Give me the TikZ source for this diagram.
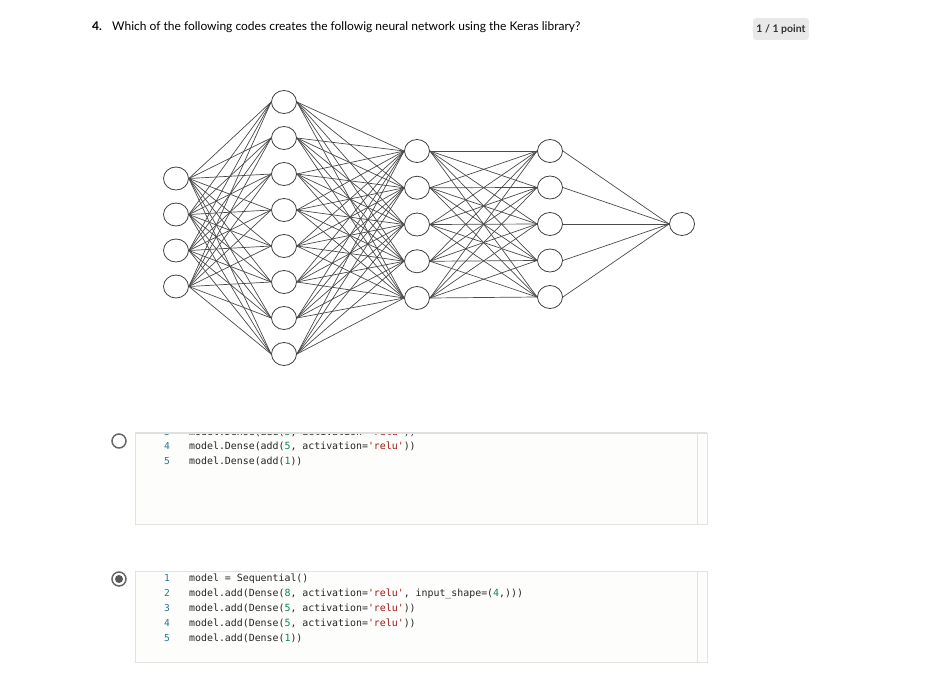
\documentclass[tikz,border=0pt]{standalone}
\usepackage{fontspec}
\setmainfont{Lato}
\newfontfamily\codefont{DejaVu Sans Mono}
\usetikzlibrary{shapes.geometric}
\definecolor{linenocol}{HTML}{237893}
\definecolor{relustr}{HTML}{A31515}
\definecolor{numlit}{HTML}{098658}
\definecolor{boxfill}{HTML}{FDFDFB}
\definecolor{boxrule}{HTML}{E2E2E2}
\definecolor{badgefill}{HTML}{E9E9E9}
\definecolor{edgecol}{HTML}{4A4A4A}

\begin{document}
\begin{tikzpicture}[x=1pt,y=-1pt,
  neuron/.style={ellipse,draw=black!75,fill=white,line width=0.8pt,minimum width=25pt,minimum height=23pt,inner sep=0pt},
  synapse/.style={draw=edgecol,line width=0.7pt},
  lineno/.style={font=\codefont\fontsize{9.6}{12}\selectfont,text=linenocol,anchor=base east,inner sep=0pt},
  codeline/.style={font=\codefont\fontsize{9.9}{12}\selectfont,text=black!85,anchor=base west,inner sep=0pt},
  codebox/.style={fill=boxfill,draw=boxrule,line width=0.8pt},
  radio/.style={circle,draw=black!60,line width=1.5pt,minimum size=14pt,inner sep=0pt}]
%
\useasboundingbox[fill=white] (0,0) rectangle (949,682);
%
% question
\node[font=\fontsize{12}{14}\selectfont\bfseries,anchor=base west,inner sep=0pt] (qnum) at (92,31) {4.};
\node[font=\fontsize{12}{14}\selectfont,anchor=base west,inner sep=0pt] (qtext) at (112,31) {Which of the following codes creates the followig neural network using the Keras library?};
\node[fill=badgefill,rounded corners=3pt,minimum width=53pt,minimum height=22pt,font=\fontsize{10.5}{12}\selectfont\bfseries,text=black!80] (score) at (781,29) {1 / 1 point};
%
% network
\foreach \i/\y in {1/178.5,2/214.5,3/250.5,4/286.5}
  \node[neuron] (in\i) at (176,\y) {};
\foreach \i in {1,...,8}
  \node[neuron] (hA\i) at (284,{102+36*(\i-1)}) {};
\foreach \i in {1,...,5}
  \node[neuron] (hB\i) at (417,{151+36.75*(\i-1)}) {};
\foreach \i in {1,...,5}
  \node[neuron] (hC\i) at (550,{151+36.5*(\i-1)}) {};
\node[neuron] (out) at (682,224) {};
%
\foreach \i in {1,...,4}
  \foreach \j in {1,...,8}
    \draw[synapse] (in\i.east) -- (hA\j.west);
\foreach \i in {1,...,8}
  \foreach \j in {1,...,5}
    \draw[synapse] (hA\i.east) -- (hB\j.west);
\foreach \i in {1,...,5}
  \foreach \j in {1,...,5}
    \draw[synapse] (hB\i.east) -- (hC\j.west);
\foreach \i in {1,...,5}
  \draw[synapse] (hC\i.east) -- (out.west);
%
% first option
\node[radio] (optA) at (119,441) {};
\draw[codebox] (135,433) rectangle (707,524);
\draw[boxrule,line width=0.8pt] (697,433) -- (697,524);
\draw[black!12,line width=2pt] (135,433) -- (707,433);
\begin{scope}
\clip (135,434) rectangle (707,524);
\node[lineno] (a3n) at (170,435) {3};
\node[codeline] (a3) at (189,435) {model.Dense(add(\textcolor{numlit}{5}, activation=\textcolor{relustr}{'relu'}))};
\end{scope}
\node[lineno] (a4n) at (170,449.5) {4};
\node[codeline] (a4) at (189,449.5) {model.Dense(add(\textcolor{numlit}{5}, activation=\textcolor{relustr}{'relu'}))};
\node[lineno] (a5n) at (170,464.5) {5};
\node[codeline] (a5) at (189,464.5) {model.Dense(add(\textcolor{numlit}{1}))};
%
% second option
\node[radio] (optB) at (119,579) {};
\node[circle,fill=black!65,minimum size=8pt,inner sep=0pt] (optBdot) at (optB) {};
\draw[codebox] (135,571) rectangle (707,662);
\draw[boxrule,line width=0.8pt] (697,571) -- (697,662);
\node[lineno] (b1n) at (170,581.5) {1};
\node[codeline] (b1) at (189,581.5) {model = Sequential()};
\node[lineno] (b2n) at (170,596.5) {2};
\node[codeline] (b2) at (189,596.5) {model.add(Dense(\textcolor{numlit}{8}, activation=\textcolor{relustr}{'relu'}, input\_shape=(\textcolor{numlit}{4},)))};
\node[lineno] (b3n) at (170,611.5) {3};
\node[codeline] (b3) at (189,611.5) {model.add(Dense(\textcolor{numlit}{5}, activation=\textcolor{relustr}{'relu'}))};
\node[lineno] (b4n) at (170,626.5) {4};
\node[codeline] (b4) at (189,626.5) {model.add(Dense(\textcolor{numlit}{5}, activation=\textcolor{relustr}{'relu'}))};
\node[lineno] (b5n) at (170,641.5) {5};
\node[codeline] (b5) at (189,641.5) {model.add(Dense(\textcolor{numlit}{1}))};
\end{tikzpicture}
\end{document}
